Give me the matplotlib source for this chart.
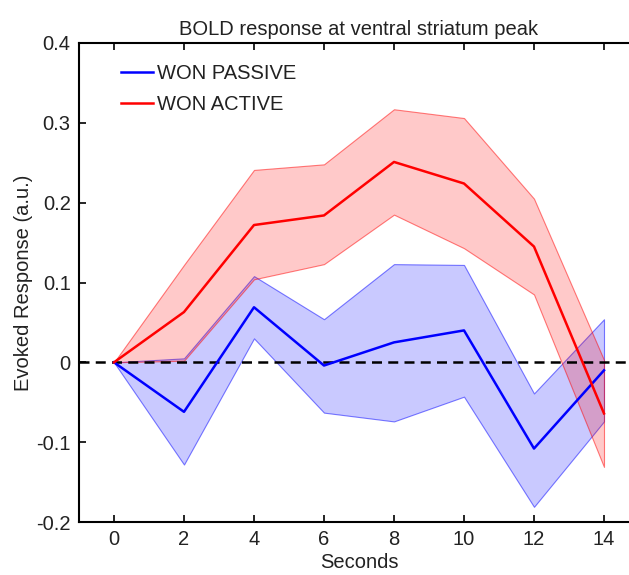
import matplotlib
matplotlib.use('Agg')
import matplotlib.pyplot as plt
import numpy as np

plt.rcParams['font.family'] = ['Liberation Sans', 'DejaVu Sans']

# 时间点（秒）
seconds = [0, 2, 4, 6, 8, 10, 12, 14]

# WON PASSIVE: 均值和上下界
passive_mean = [0, -0.062, 0.069, -0.004, 0.025, 0.040, -0.108, -0.010]
passive_upper = [0, 0.005, 0.108, 0.054, 0.123, 0.122, -0.039, 0.054]
passive_lower = [0, -0.128, 0.030, -0.063, -0.074, -0.043, -0.181, -0.074]

# WON ACTIVE: 均值和上下界
active_mean = [0, 0.063, 0.172, 0.184, 0.251, 0.224, 0.145, -0.064]
active_upper = [0, 0.122, 0.241, 0.248, 0.317, 0.306, 0.205, 0.003]
active_lower = [0, 0.002, 0.104, 0.123, 0.185, 0.143, 0.085, -0.131]

x_ticks = [0, 2, 4, 6, 8, 10, 12, 14]
y_ticks = [-0.2, -0.1, 0, 0.1, 0.2, 0.3, 0.4]
y_tick_labels = ['-0.2', '-0.1', '0', '0.1', '0.2', '0.3', '0.4']

fig = plt.figure(figsize=(6.29, 5.75), dpi=100)
# 右边界超出画布（原图被裁剪）
ax = fig.add_axes([79 / 629, 53 / 575, 560 / 629, 479 / 575])

ax.fill_between(seconds, passive_lower, passive_upper, facecolor=(0, 0, 1, 0.21),
                edgecolor=(0, 0, 1, 0.5), linewidth=0.8)
ax.fill_between(seconds, active_lower, active_upper, facecolor=(1, 0, 0, 0.21),
                edgecolor=(1, 0, 0, 0.5), linewidth=0.8)

ax.axhline(0, color='black', linestyle=(0, (4, 2.5)), linewidth=1.8)

ax.plot(seconds, passive_mean, color='blue', linewidth=1.8, label='WON PASSIVE')
ax.plot(seconds, active_mean, color='red', linewidth=1.8, label='WON ACTIVE')

ax.set_xlim(-1, 15)
ax.set_ylim(-0.2, 0.4)
ax.set_xticks(x_ticks)
ax.set_yticks(y_ticks)
ax.set_yticklabels(y_tick_labels)
ax.tick_params(direction='in', top=True, right=True, length=5, width=1.2,
               labelsize=14.5, colors='black', labelcolor='#222222', pad=6)
for s in ax.spines.values():
    s.set_linewidth(1.5)

ax.set_title('BOLD response at ventral striatum peak', fontsize=14.5, color='#222222', pad=6)
ax.set_xlabel('Seconds', fontsize=14.5, color='#222222', labelpad=3)
ax.set_ylabel('Evoked Response (a.u.)', fontsize=14.5, color='#222222', labelpad=2)

leg = ax.legend(loc='upper left', bbox_to_anchor=(0.05, 0.985), frameon=False,
                fontsize=14.5, handlelength=1.6, handletextpad=0.2, labelspacing=0.6,
                borderaxespad=0.3)
for t in leg.get_texts():
    t.set_color('#222222')

fig.savefig('out.png', dpi=100)
